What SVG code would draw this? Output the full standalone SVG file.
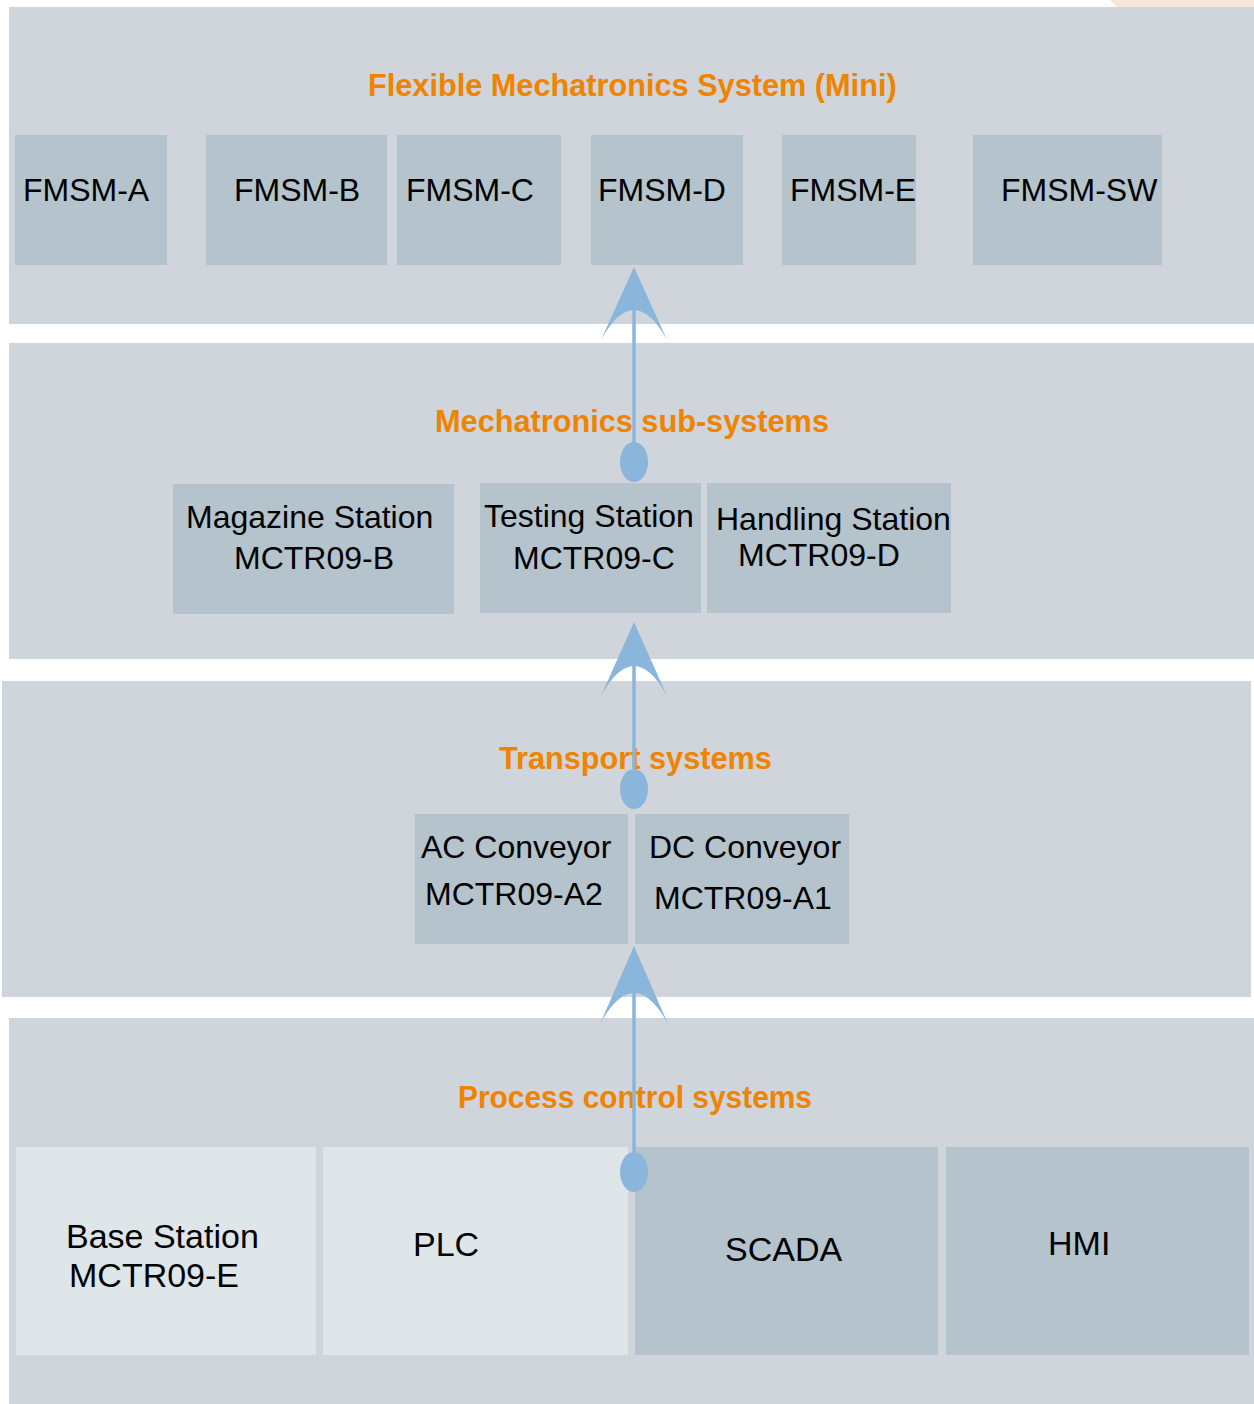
<svg xmlns="http://www.w3.org/2000/svg" width="1254" height="1404" viewBox="0 0 1254 1404">
<style>
.band{fill:#cfd5da}
.n{fill:#b4c3cc}
.nl{fill:#dfe6ea}
.t{font-family:"Liberation Sans",Arial,sans-serif;font-size:32px;fill:#000}
.tb{font-size:34px}
.h{font-family:"Liberation Sans",Arial,sans-serif;font-size:30.7px;font-weight:bold;fill:#f08300}
.ln{stroke:#8ab6dc;stroke-width:3.5;fill:none}
.ah{fill:#8ab6dc}
</style>
<rect width="1254" height="1404" fill="#fff"/>
<polygon points="1110,0 1254,0 1254,7 1117,7" fill="#f5e6d9"/>
<g id="band-fms">
<rect class="band" x="9" y="7" width="1245" height="317"/>
<text class="h" x="368" y="96">Flexible Mechatronics System (Mini)</text>
</g>
<g id="band-mech">
<rect class="band" x="9" y="343" width="1245" height="316"/>
<text class="h" x="435" y="432">Mechatronics sub-systems</text>
</g>
<g id="band-transport">
<rect class="band" x="2" y="681" width="1249" height="316"/>
<text class="h" x="499" y="769">Transport systems</text>
</g>
<g id="band-process">
<rect class="band" x="9" y="1018" width="1245" height="386"/>
<text class="h" x="458" y="1108" textLength="354" lengthAdjust="spacingAndGlyphs">Process control systems</text>
</g>
<g id="fmsm-a"><rect class="n" x="15" y="135" width="152" height="130"/><text class="t" x="23" y="201">FMSM-A</text></g>
<g id="fmsm-b"><rect class="n" x="206" y="135" width="181" height="130"/><text class="t" x="234" y="201">FMSM-B</text></g>
<g id="fmsm-c"><rect class="n" x="397" y="135" width="164" height="130"/><text class="t" x="406" y="201">FMSM-C</text></g>
<g id="fmsm-d"><rect class="n" x="591" y="135" width="152" height="130"/><text class="t" x="598" y="201">FMSM-D</text></g>
<g id="fmsm-e"><rect class="n" x="782" y="135" width="134" height="130"/><text class="t" x="790" y="201">FMSM-E</text></g>
<g id="fmsm-sw"><rect class="n" x="973" y="135" width="189" height="130"/><text class="t" x="1001" y="201">FMSM-SW</text></g>
<g id="magazine"><rect class="n" x="173" y="484" width="281" height="130"/><text class="t" x="186" y="528">Magazine Station</text><text class="t" x="234" y="569">MCTR09-B</text></g>
<g id="testing"><rect class="n" x="480" y="483" width="221" height="130"/><text class="t" x="484" y="527">Testing Station</text><text class="t" x="513" y="569">MCTR09-C</text></g>
<g id="handling"><rect class="n" x="707" y="483" width="244" height="130"/><text class="t" x="716" y="530">Handling Station</text><text class="t" x="738" y="566">MCTR09-D</text></g>
<g id="ac-conveyor"><rect class="n" x="415" y="814" width="213" height="130"/><text class="t" x="421" y="858">AC Conveyor</text><text class="t" x="425" y="905">MCTR09-A2</text></g>
<g id="dc-conveyor"><rect class="n" x="635" y="814" width="214" height="130"/><text class="t" x="649" y="858">DC Conveyor</text><text class="t" x="654" y="909">MCTR09-A1</text></g>
<g id="base-station"><rect class="nl" x="16" y="1147" width="300" height="208"/><text class="t tb" x="66" y="1248">Base Station</text><text class="t tb" x="69" y="1287">MCTR09-E</text></g>
<g id="plc"><rect class="nl" x="323" y="1147" width="305" height="208"/><text class="t tb" x="413" y="1256">PLC</text></g>
<g id="scada"><rect class="n" x="635" y="1147" width="303" height="208"/><text class="t tb" x="725" y="1261">SCADA</text></g>
<g id="hmi"><rect class="n" x="946" y="1147" width="303" height="208"/><text class="t tb" x="1048" y="1255">HMI</text></g>
<g id="connectors">
<line class="ln" x1="634" y1="462" x2="634" y2="300"/>
<path class="ah" d="M634,267 L667,340 Q634,280 601,340 Z"/>
<ellipse class="ah" cx="634" cy="462" rx="14" ry="20"/>
<line class="ln" x1="634" y1="789" x2="634" y2="655"/>
<path class="ah" d="M634,622 L667,696 Q634,636 601,696 Z"/>
<ellipse class="ah" cx="634" cy="789" rx="14" ry="20"/>
<line class="ln" x1="634" y1="1172" x2="634" y2="980"/>
<path class="ah" d="M634,946 L668,1024 Q634,962 600,1024 Z"/>
<ellipse class="ah" cx="634" cy="1172" rx="14" ry="20"/>
</g>
</svg>
